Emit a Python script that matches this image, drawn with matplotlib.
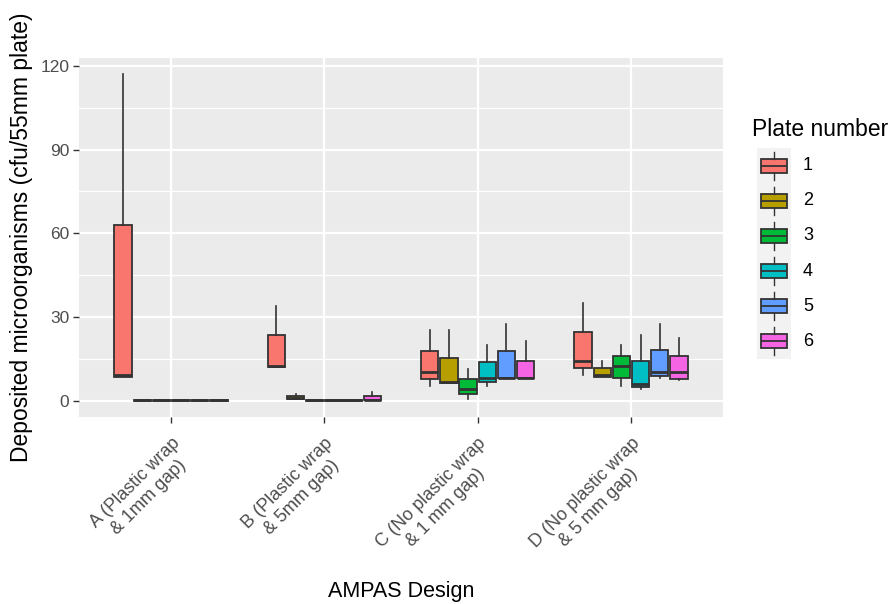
import matplotlib.pyplot as plt
import numpy as np

plt.rcParams['font.family'] = ['Liberation Sans', 'DejaVu Sans']

designs = ['A (Plastic wrap\n& 1mm gap)', 'B (Plastic wrap\n& 5mm gap)',
           'C (No plastic wrap\n& 1 mm gap)', 'D (No plastic wrap\n& 5 mm gap)']
plates = ['1', '2', '3', '4', '5', '6']
colors = ['#F8766D', '#B79F00', '#00BA38', '#00BFC4', '#619CFF', '#F564E3']

# five number summaries, rows = plate, cols = design A..D
whislo = [[8.5, 12.0, 5.4, 9.2],
          [0.0, 0.6, 6.2, 8.4],
          [0.0, 0.0, 0.6, 5.4],
          [0.0, 0.0, 5.4, 4.2],
          [0.0, 0.0, 8.1, 8.1],
          [0.0, 0.1, 8.0, 7.5]]
q1 = [[8.5, 12.2, 7.8, 11.6],
      [0.0, 0.6, 6.2, 8.4],
      [0.0, 0.0, 2.3, 8.3],
      [0.0, 0.0, 6.7, 4.9],
      [0.0, 0.0, 8.1, 8.7],
      [0.0, 0.1, 8.0, 7.9]]
med = [[9.2, 12.6, 10.3, 14.3],
       [0.2, 1.0, 6.6, 9.3],
       [0.2, 0.2, 4.3, 12.3],
       [0.2, 0.2, 8.0, 6.1],
       [0.2, 0.2, 8.1, 10.3],
       [0.2, 0.3, 8.0, 10.4]]
q3 = [[63.0, 23.4, 17.8, 24.5],
      [0.3, 1.8, 15.4, 11.6],
      [0.3, 0.3, 7.7, 16.0],
      [0.3, 0.3, 13.9, 14.4],
      [0.3, 0.3, 17.7, 18.3],
      [0.3, 1.8, 14.4, 16.0]]
whishi = [[117.0, 34.1, 25.2, 35.1],
          [0.3, 2.5, 25.2, 14.1],
          [0.3, 0.3, 11.4, 20.1],
          [0.3, 0.3, 20.1, 23.5],
          [0.3, 0.3, 27.6, 27.6],
          [0.3, 3.0, 21.3, 22.4]]

edge = '#333333'
fig = plt.figure(figsize=(8.92, 6.04), dpi=100)
ax = fig.add_axes([79/892, 1-417/604, 644/892, 359/604])
ax.set_facecolor('#EBEBEB')

slot = 0.75/len(plates)
for p in range(len(plates)):
    stats = []
    for d in range(len(designs)):
        stats.append(dict(whislo=whislo[p][d], q1=q1[p][d], med=med[p][d],
                          q3=q3[p][d], whishi=whishi[p][d], fliers=[]))
    pos = np.arange(1, len(designs)+1) + (p - 2.5)*slot
    ax.bxp(stats, positions=pos, widths=slot*0.9, patch_artist=True,
           showcaps=False, showfliers=False, manage_ticks=False,
           boxprops=dict(facecolor=colors[p], edgecolor=edge, linewidth=1.3),
           whiskerprops=dict(color=edge, linewidth=1.2),
           medianprops=dict(color=edge, linewidth=2.0, solid_capstyle='butt'),
           zorder=3)

ax.set_xlim(0.4, 4.6)
ax.set_ylim(-5.85, 122.85)
ax.set_yticks([0, 30, 60, 90, 120])
ax.set_yticks([15, 45, 75, 105], minor=True)
ax.set_xticks([1, 2, 3, 4])
ax.set_xticklabels(designs, rotation=45, ha='right', va='top',
                   rotation_mode='anchor', multialignment='center')
ax.grid(which='major', color='white', linewidth=1.6, zorder=0)
ax.grid(which='minor', axis='y', color='white', linewidth=0.9, zorder=0)
ax.set_axisbelow(True)
for s in ax.spines.values():
    s.set_visible(False)
ax.tick_params(which='major', length=4, width=1.0, color='#333333',
               labelcolor='#4D4D4D', labelsize=12.5, pad=3)
ax.tick_params(axis='x', labelsize=13, pad=9)
ax.tick_params(which='minor', length=0)
ax.set_ylabel('Deposited microorganisms (cfu/55mm plate)', fontsize=16.5,
              labelpad=5)
fig.text(401/892, 1-597/604, 'AMPAS Design', fontsize=15.5, ha='center',
         va='baseline')

# legend drawn as its own small axes of boxplot keys
lax = fig.add_axes([757/892, 1-359/604, 34/892, 211/604])
lax.set_facecolor('#F2F2F2')
n = len(plates)
for i in range(n):
    base = n - 1 - i
    key = [dict(whislo=base+0.1, q1=base+0.3, med=base+0.5, q3=base+0.7,
                whishi=base+0.9, fliers=[])]
    lax.bxp(key, positions=[0.5], widths=0.78, patch_artist=True,
            showcaps=False, showfliers=False, manage_ticks=False,
            boxprops=dict(facecolor=colors[i], edgecolor=edge, linewidth=1.3),
            whiskerprops=dict(color=edge, linewidth=1.0),
            medianprops=dict(color=edge, linewidth=1.3))
    lax.text(1.35, base+0.5, plates[i], fontsize=13, va='center', ha='left',
             color='black', clip_on=False)
lax.set_xlim(0, 1)
lax.set_ylim(0, n)
lax.set_xticks([])
lax.set_yticks([])
for s in lax.spines.values():
    s.set_visible(False)
fig.text(752/892, 1-130/604, 'Plate number', fontsize=16.5, va='center',
         ha='left')

fig.savefig('out.png', dpi=100)
